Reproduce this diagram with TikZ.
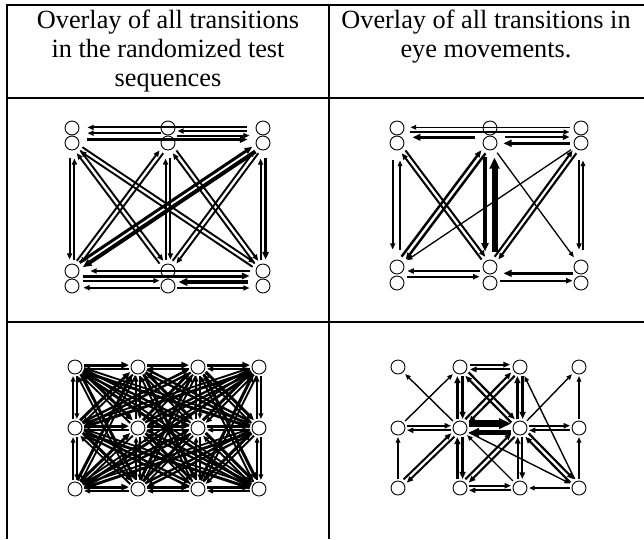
\documentclass[tikz,border=0pt]{standalone}
\usepackage{fontspec}
\setmainfont{Liberation Serif}
\usetikzlibrary{arrows.meta,calc}

\tikzset{
  st/.style={circle, draw, line width=0.9pt, minimum size=14pt, inner sep=0pt, fill=white},
  ed/.style={line width=1.9pt, -{Triangle[length=4pt 1.2, width=3pt 1.1]}},
  rule/.style={line width=2pt},
  hd/.style={anchor=base, font=\fontsize{26.3}{29}\selectfont, inner sep=0pt},
}

% directed edge drawn parallel to the centre line, shifted sideways by #2
\newcommand{\pedge}[5][]{%
  \draw[ed,#1,shorten <=#5,shorten >=#5] ($(#3)!#2!90:(#4)$) -- ($(#4)!#2!-90:(#3)$);}

\begin{document}
\begin{tikzpicture}[x=1pt,y=-1pt]
\useasboundingbox (0,0) rectangle (644,539);

% table rules
\draw[rule] (7,5) -- (644,5);
\draw[rule] (7,4) -- (7,539);
\draw[rule] (329,5) -- (329,539);
\draw[rule] (7,98) -- (644,98);
\draw[rule] (7,322) -- (644,322);

% header
\node[hd] (h11) at (168,28) {Overlay of all transitions};
\node[hd] (h12) at (168,57) {in the randomized test};
\node[hd] (h13) at (168,86) {sequences};
\node[hd] (h21) at (486,28) {Overlay of all transitions in};
\node[hd] (h22) at (486,57) {eye movements.};

% ---------- randomized sequences, paired targets ----------
\foreach \n/\x in {a/72,b/168,c/263}{
  \node[st] (\n1) at (\x,128) {};
  \node[st] (\n2) at (\x,143) {};}
\foreach \n/\x in {d/72,e/168,f/263}{
  \node[st] (\n1) at (\x,271) {};
  \node[st] (\n2) at (\x,286) {};}

\draw[ed, shorten <=9pt, shorten >=8pt] ([yshift=0.6pt]c1.west) -- ([yshift=0.6pt]a1.east);
\draw[ed, shorten <=9pt, shorten >=2pt] ([yshift=-3pt]c1.west) -- ([yshift=-3pt]b1.east);
\draw[ed, shorten >=8pt] ([yshift=-5.2pt]b1.west) -- ([yshift=-5.2pt]a1.east);
\draw[ed, shorten <=2pt, shorten >=6pt] ([yshift=-7.6pt]b1.east) -- ([yshift=-7.6pt]c1.west);
\draw[ed, line width=3pt, shorten <=8pt, shorten >=8pt] ([yshift=3.5pt]a2.east) -- ([yshift=3.5pt]c2.west);

\draw[ed, shorten <=6pt, shorten >=11pt] (f1.west) -- (d1.east);
\draw[ed, line width=3pt, shorten <=4pt, shorten >=6pt] ([yshift=-5pt]d1.east) -- ([yshift=-5pt]f1.west);
\draw[ed, shorten <=4pt, shorten >=1pt] ([yshift=5.3pt]d2.east) -- ([yshift=5.3pt]e2.west);
\draw[ed, line width=4pt, shorten <=8pt, shorten >=3pt] ([yshift=4pt]f2.west) -- ([yshift=4pt]e2.east);
\draw[ed, shorten <=1pt, shorten >=4pt] ([yshift=-1.7pt]e2.west) -- ([yshift=-1.7pt]d2.east);
\draw[ed, shorten <=2pt, shorten >=6pt] ([yshift=-2pt]e2.east) -- ([yshift=-2pt]f2.west);

\draw[ed, shorten <=8pt, shorten >=4pt] ([xshift=-2.4pt]a2.south) -- ([xshift=-2.4pt]d1.north);
\draw[ed, shorten <=4pt, shorten >=8pt] ([xshift=2.4pt]d1.north) -- ([xshift=2.4pt]a2.south);
\draw[ed, shorten <=8pt, shorten >=4pt] ([xshift=2.4pt]b2.south) -- ([xshift=2.4pt]e1.north);
\draw[ed, shorten <=4pt, shorten >=8pt] ([xshift=-2.4pt]e1.north) -- ([xshift=-2.4pt]b2.south);
\draw[ed, line width=3pt, shorten <=8pt, shorten >=4pt] ([xshift=2.6pt]c2.south) -- ([xshift=2.6pt]f1.north);
\draw[ed, shorten <=4pt, shorten >=8pt] ([xshift=-2.4pt]f1.north) -- ([xshift=-2.4pt]c2.south);

\pedge{2.3pt}{a2}{e1}{11pt} \pedge{2.3pt}{e1}{a2}{11pt}
\pedge{2.3pt}{a2}{f1}{11pt} \pedge{2.3pt}{f1}{a2}{11pt}
\pedge{2.3pt}{b2}{d1}{11pt} \pedge{2.3pt}{d1}{b2}{11pt}
\pedge{2.3pt}{b2}{f1}{11pt} \pedge{2.3pt}{f1}{b2}{11pt}
\pedge[line width=4pt]{2.8pt}{c2}{d1}{11pt} \pedge[line width=3pt]{2.8pt}{d1}{c2}{11pt}
\pedge{2.3pt}{c2}{e1}{11pt} \pedge{2.3pt}{e1}{c2}{11pt}

% ---------- eye movements, paired targets ----------
\foreach \n/\x in {g/397,h/490,i/581}{
  \node[st] (\n1) at (\x,128) {};
  \node[st] (\n2) at (\x,143) {};}
\foreach \n/\x in {j/397,k/490,l/581}{
  \node[st] (\n1) at (\x,267) {};
  \node[st] (\n2) at (\x,283) {};}

\draw[ed, line width=1.4pt, shorten <=4pt, shorten >=6pt] ([yshift=0.7pt]i1.west) -- ([yshift=0.7pt]g1.east);
\draw[ed, line width=1.6pt, shorten <=6pt, shorten >=4pt] ([yshift=-4pt]g1.east) -- ([yshift=-4pt]i1.west);
\draw[ed, line width=3.2pt, shorten <=8pt, shorten >=8pt] ([yshift=-9.3pt]h1.west) -- ([yshift=-9.3pt]g1.east);
\draw[ed, line width=2.2pt, shorten <=8pt, shorten >=4pt] ([yshift=-9pt]h1.east) -- ([yshift=-9pt]i1.west);
\draw[ed, line width=3.4pt, shorten <=4pt, shorten >=6pt] ([yshift=-0.3pt]i2.west) -- ([yshift=-0.3pt]h2.east);

\draw[ed, line width=1.8pt, shorten <=10pt, shorten >=10pt] ([xshift=-4.3pt]g2.south) -- ([xshift=-4.3pt]j1.north);
\draw[ed, line width=1.4pt, shorten <=10pt, shorten >=10pt] ([xshift=3pt]j1.north) -- ([xshift=3pt]g2.south);
\draw[ed, line width=3.6pt, shorten <=7pt, shorten >=8pt] ([xshift=-5pt]h2.south) -- ([xshift=-5pt]k1.north);
\draw[ed, line width=6pt, shorten <=8pt, shorten >=7pt] ([xshift=4.5pt]k1.north) -- ([xshift=4.5pt]h2.south);
\draw[ed, line width=1.8pt, shorten <=10pt, shorten >=10pt] ([xshift=-2pt]i2.south) -- ([xshift=-2pt]l1.north);
\draw[ed, line width=1.4pt, shorten <=10pt, shorten >=10pt] ([xshift=2pt]l1.north) -- ([xshift=2pt]i2.south);

\pedge[line width=2pt]{2.3pt}{g2}{k1}{11pt} \pedge[line width=2pt]{2.3pt}{k1}{g2}{11pt}
\pedge[line width=2.5pt]{2.6pt}{h2}{j1}{11pt} \pedge[line width=2.5pt]{2.6pt}{j1}{h2}{11pt}
\pedge[line width=1.3pt]{0pt}{i2}{j1}{12pt}
\pedge[line width=1.3pt]{0pt}{h2}{l1}{12pt}
\pedge[line width=2.1pt]{2.3pt}{i2}{k1}{11pt} \pedge[line width=2.1pt]{2.3pt}{k1}{i2}{11pt}

\draw[ed, line width=2.1pt, shorten <=3pt, shorten >=3pt] ([yshift=-4pt]k1.west) -- ([yshift=-4pt]j1.east);
\draw[ed, line width=2.1pt, shorten <=3pt, shorten >=3pt] ([yshift=6.3pt]j2.east) -- ([yshift=6.3pt]k2.west);
\draw[ed, line width=3.4pt, shorten <=1pt, shorten >=6pt] ([yshift=-6.3pt]l1.west) -- ([yshift=-6.3pt]k1.east);
\draw[ed, line width=2.1pt, shorten <=3pt, shorten >=1pt] ([yshift=2.3pt]k2.east) -- ([yshift=2.3pt]l2.west);

% ---------- randomized sequences, 4 x 3 grid ----------
\foreach \c/\x in {0/75,1/138,2/198,3/259}
  \foreach \r/\y in {0/367,1/428,2/489}
    \node[st] (q\c\r) at (\x,\y) {};

\foreach \i in {0,...,11}{
  \foreach \j in {0,...,11}{
    \pgfmathtruncatemacro\ca{mod(\i,4)}
    \pgfmathtruncatemacro\ra{int(\i/4)}
    \pgfmathtruncatemacro\cb{mod(\j,4)}
    \pgfmathtruncatemacro\rb{int(\j/4)}
    \pgfmathtruncatemacro\dx{abs(\ca-\cb)}
    \pgfmathtruncatemacro\dy{abs(\ra-\rb)}
    \pgfmathtruncatemacro\bad{((\dx==0)&&(\dy!=1)) || ((\dy==0)&&(\dx>=2)) || ((\dx==2)&&(\dy==2))}
    \pgfmathsetmacro\lw{1.3+0.55*mod(\i*5+\j*7,4)}
    \ifnum\bad=0
      \pedge[line width=\lw pt]{1.9pt}{q\ca\ra}{q\cb\rb}{9pt}
    \fi
  }
}

% ---------- eye movements, 4 x 3 grid ----------
\foreach \c/\x in {0/398,1/460,2/520,3/579}
  \foreach \r/\y in {0/367,1/428,2/488}
    \node[st] (s\c\r) at (\x,\y) {};

\pedge[line width=2.1pt]{2.4pt}{s10}{s20}{10pt} \pedge[line width=2.1pt]{2.4pt}{s20}{s10}{10pt}
\pedge[line width=6.5pt]{4.4pt}{s11}{s21}{9pt} \pedge[line width=5pt]{4.4pt}{s21}{s11}{9pt}
\pedge[line width=1.9pt]{2.3pt}{s01}{s11}{9pt} \pedge[line width=1.9pt]{2.3pt}{s11}{s01}{9pt}
\pedge[line width=1.9pt]{2.3pt}{s21}{s31}{9pt} \pedge[line width=1.9pt]{2.3pt}{s31}{s21}{9pt}
\pedge[line width=1.9pt]{2.3pt}{s12}{s22}{9pt} \pedge[line width=1.9pt]{2.3pt}{s22}{s12}{9pt}
\pedge[line width=2.6pt]{2.6pt}{s10}{s11}{9pt} \pedge[line width=2.6pt]{2.6pt}{s11}{s10}{9pt}
\pedge[line width=2.6pt]{2.6pt}{s11}{s12}{9pt} \pedge[line width=2.6pt]{2.6pt}{s12}{s11}{9pt}
\pedge[line width=2.6pt]{2.6pt}{s20}{s21}{9pt} \pedge[line width=2.6pt]{2.6pt}{s21}{s20}{9pt}
\pedge[line width=2.1pt]{2.3pt}{s21}{s22}{9pt} \pedge[line width=2.1pt]{2.3pt}{s22}{s21}{9pt}
\pedge[line width=2.2pt]{2.4pt}{s10}{s21}{10pt} \pedge[line width=2.2pt]{2.4pt}{s21}{s10}{10pt}
\pedge[line width=2.2pt]{2.4pt}{s20}{s11}{10pt} \pedge[line width=2.2pt]{2.4pt}{s11}{s20}{10pt}
\pedge[line width=2pt]{2.3pt}{s11}{s02}{10pt} \pedge[line width=2pt]{2.3pt}{s02}{s11}{10pt}
\pedge[line width=2.2pt]{2.4pt}{s12}{s21}{10pt} \pedge[line width=2.2pt]{2.4pt}{s21}{s12}{10pt}
\pedge[line width=2.2pt]{2.4pt}{s21}{s32}{10pt} \pedge[line width=2.2pt]{2.4pt}{s32}{s21}{10pt}
\pedge[line width=1.4pt]{0pt}{s32}{s22}{9pt}
\pedge[line width=1.4pt]{0pt}{s02}{s01}{9pt}
\pedge[line width=1.4pt]{0pt}{s32}{s31}{9pt}
\pedge[line width=1.4pt]{0pt}{s31}{s30}{9pt}
\pedge[line width=1.4pt]{0pt}{s11}{s00}{10pt}
\pedge[line width=1.4pt]{0pt}{s01}{s10}{10pt}
\pedge[line width=1.4pt]{0pt}{s22}{s11}{10pt}
\pedge[line width=1.4pt]{0pt}{s21}{s30}{10pt}
\pedge[line width=1.4pt]{0pt}{s32}{s20}{10pt}
\pedge[line width=1.4pt]{0pt}{s11}{s32}{10pt}
\end{tikzpicture}
\end{document}
